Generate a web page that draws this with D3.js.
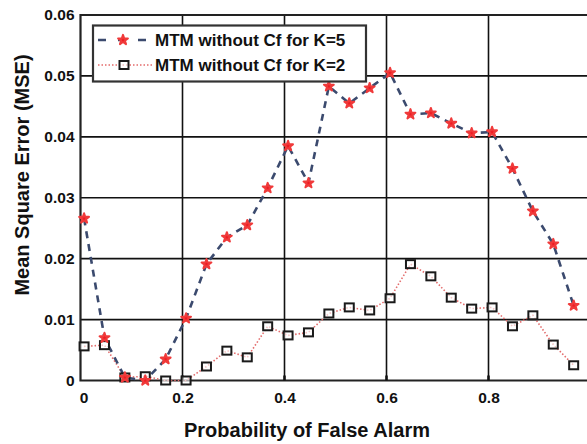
<!DOCTYPE html>
<html>
<head>
<meta charset="utf-8">
<script src="https://cdn.jsdelivr.net/npm/d3@7"></script>
<style>
  html, body { margin: 0; padding: 0; background: #fff; }
  svg { display: block; }
  text { font-family: Arial, "Liberation Sans", sans-serif; font-weight: bold; }
</style>
</head>
<body>
<svg id="chart" width="587" height="444"></svg>
<script>
// Probability of false alarm at which each MSE was evaluated
const pfa = [0.007, 0.047, 0.087, 0.127, 0.167, 0.207, 0.247, 0.287, 0.327, 0.367,
             0.407, 0.447, 0.487, 0.527, 0.567, 0.607, 0.647, 0.687, 0.727, 0.767,
             0.807, 0.847, 0.887, 0.927, 0.967];
// MSE, MTM without Cf, K=5
const mseK5 = [0.0266, 0.0070, 0.0005, 0.0000, 0.0035, 0.0102, 0.0191, 0.0235, 0.0255, 0.0316,
               0.0385, 0.0324, 0.0483, 0.0455, 0.0480, 0.0505, 0.0437, 0.0439, 0.0422, 0.0406,
               0.0408, 0.0348, 0.0278, 0.0224, 0.0123];
// MSE, MTM without Cf, K=2
const mseK2 = [0.0056, 0.0058, 0.0005, 0.0007, 0.0000, 0.0000, 0.0023, 0.0049, 0.0038, 0.0089,
               0.0074, 0.0079, 0.0110, 0.0120, 0.0115, 0.0135, 0.0191, 0.0171, 0.0136, 0.0118,
               0.0120, 0.0089, 0.0107, 0.0059, 0.0025];
const xTicks = [0, 0.2, 0.4, 0.6, 0.8, 1.0];
const yTicks = [0, 0.01, 0.02, 0.03, 0.04, 0.05, 0.06];
const seriesNames = ["MTM without Cf for K=5", "MTM without Cf for K=2"];

const svg = d3.select("#chart");
const mLeft = 80.5, mTop = 15, mBottom = 380.5, mRight = 590.5;

const x = d3.scaleLinear().domain([0, 1]).range([mLeft, mRight]);
const y = d3.scaleLinear().domain([0, 0.06]).range([mBottom, mTop]);

// grid
const grid = svg.append("g");
grid.selectAll("line.vx").data(xTicks.slice(1)).join("line")
  .attr("x1", d => x(d)).attr("x2", d => x(d))
  .attr("y1", mTop).attr("y2", mBottom)
  .attr("stroke", "#111").attr("stroke-width", 1.6);
grid.selectAll("line.hy").data(yTicks.slice(1, -1)).join("line")
  .attr("x1", mLeft).attr("x2", 587)
  .attr("y1", d => y(d)).attr("y2", d => y(d))
  .attr("stroke", "#111").attr("stroke-width", 1.6);

// frame: left, bottom, top
svg.append("path")
  .attr("d", `M587,${mTop}H${mLeft}V${mBottom}H587`)
  .attr("fill", "none").attr("stroke", "#222").attr("stroke-width", 2.2);

// axes tick labels
const xAxis = d3.axisBottom(x).tickValues(xTicks.slice(0, -1))
  .tickFormat(d => d === 0 ? "0" : d3.format(".1f")(d)).tickSize(0).tickPadding(11);
const gx = svg.append("g").attr("transform", `translate(0,${mBottom})`).call(xAxis);
gx.select(".domain").remove();
gx.selectAll("text").attr("font-size", 15.5).attr("fill", "#111")
  .attr("dx", (d, i) => i === 0 ? 3 : 0);

const yAxis = d3.axisLeft(y).tickValues(yTicks)
  .tickFormat(d => d === 0 ? "0" : d3.format(".2f")(d)).tickSize(0).tickPadding(6);
const gy = svg.append("g").attr("transform", `translate(${mLeft},0)`).call(yAxis);
gy.select(".domain").remove();
gy.selectAll("text").attr("font-size", 15.5).attr("fill", "#111");

// small ticks on the axes
svg.append("g").selectAll("line").data(xTicks.slice(1, -1)).join("line")
  .attr("x1", d => x(d)).attr("x2", d => x(d))
  .attr("y1", mBottom).attr("y2", mBottom - 5)
  .attr("stroke", "#111").attr("stroke-width", 2.5);

// axis titles
svg.append("text")
  .attr("x", 307).attr("y", 437)
  .attr("text-anchor", "middle").attr("font-size", 20).attr("fill", "#111")
  .text("Probability of False Alarm");
svg.append("text")
  .attr("transform", `translate(29,175) rotate(-90)`)
  .attr("text-anchor", "middle").attr("font-size", 20).attr("fill", "#111")
  .text("Mean Square Error (MSE)");

// series
const line = d3.line().x(d => x(d[0])).y(d => y(d[1]));
const dataK5 = pfa.map((p, i) => [p, mseK5[i]]);
const dataK2 = pfa.map((p, i) => [p, mseK2[i]]);

const starPath = d3.symbol().type(d3.symbolStar).size(30)();
const drawStar = (sel) => sel.append("path").attr("d", starPath)
  .attr("fill", "#ee1c24").attr("stroke", "#f03a3a").attr("stroke-width", 2)
  .attr("stroke-linejoin", "round");
const drawSquare = (sel) => sel.append("rect")
  .attr("x", -4.5).attr("y", -4).attr("width", 9).attr("height", 8)
  .attr("fill", "#fff").attr("fill-opacity", 0.6)
  .attr("stroke", "#1a1a1a").attr("stroke-width", 2);

const plot = svg.append("g");
plot.append("path").datum(dataK2).attr("d", line)
  .attr("fill", "none").attr("stroke", "#e36b6b").attr("stroke-width", 1.6)
  .attr("stroke-dasharray", "1.5,2");
plot.append("path").datum(dataK5).attr("d", line)
  .attr("fill", "none").attr("stroke", "#3b4a6e").attr("stroke-width", 2.6)
  .attr("stroke-dasharray", "7,6");

plot.selectAll("g.k2").data(dataK2).join("g")
  .attr("transform", d => `translate(${x(d[0])},${y(d[1])})`)
  .call(drawSquare);
plot.selectAll("g.k5").data(dataK5).join("g")
  .attr("transform", d => `translate(${x(d[0])},${y(d[1])})`)
  .call(drawStar);

// legend
const lg = svg.append("g");
lg.append("rect").attr("x", 93).attr("y", 25.5).attr("width", 273).attr("height", 56)
  .attr("fill", "#fff").attr("stroke", "#333").attr("stroke-width", 2.2);
const rows = [40, 65];
lg.append("line").attr("x1", 98).attr("x2", 152).attr("y1", rows[0]).attr("y2", rows[0])
  .attr("stroke", "#3b4a6e").attr("stroke-width", 2.6).attr("stroke-dasharray", "8,12");
lg.append("g").attr("transform", `translate(123,${rows[0]})`).call(drawStar);
lg.append("line").attr("x1", 98).attr("x2", 152).attr("y1", rows[1]).attr("y2", rows[1])
  .attr("stroke", "#e36b6b").attr("stroke-width", 1.6).attr("stroke-dasharray", "1.5,2");
lg.append("g").attr("transform", `translate(124,${rows[1]})`).call(drawSquare);
lg.selectAll("text").data(seriesNames).join("text")
  .attr("x", 155).attr("y", (d, i) => rows[i] + 6)
  .attr("font-size", 17).attr("fill", "#111")
  .text(d => d);
</script>
</body>
</html>
